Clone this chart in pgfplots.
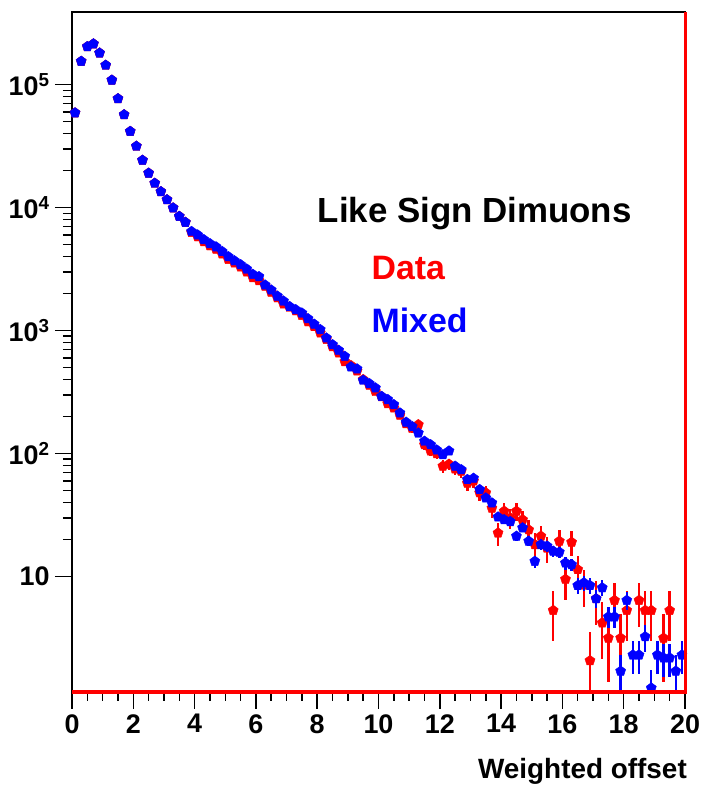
\documentclass[border=0pt]{standalone}
\usepackage{fontspec}
\setmainfont{Liberation Sans}
\usepackage{pgfplots}
\usepackage{pgfplotstable}
\pgfplotsset{compat=1.18}

\pgfplotstableread{
x y e
0.1 59000 243
0.3 155000 394
0.5 204000 452
0.7 215000 464
0.9 181000 425
1.1 144000 379
1.3 109000 330
1.5 77000 277
1.7 57000 239
1.9 41700 204
2.1 31600 178
2.3 24300 156
2.5 19100 138
2.7 15800 126
2.9 13500 116
3.1 11600 108
3.3 9950 100
3.5 8500 92
3.7 7600 87
3.9 6300 79
4.1 5800 76
4.3 5300 73
4.5 4900 70
4.7 4600 68
4.9 4200 65
5.1 3800 62
5.3 3550 60
5.5 3300 57
5.7 3000 55
5.9 2700 52
6.1 2550 50
6.3 2300 48
6.5 2050 45
6.7 1850 43
6.9 1650 41
7.1 1550 39
7.3 1450 38
7.5 1330 36
7.7 1180 34
7.9 1080 33
8.1 960 31
8.3 850 29
8.5 740 27
8.7 660 26
8.9 560 24
9.1 520 23
9.3 470 22
9.5 400 20
9.7 360 19
9.9 320 18
10.1 290 17
10.3 255 16
10.5 235 15.3
10.7 205 14.3
10.9 175 13.2
11.1 160 12.6
11.3 172 13.1
11.5 118 10.9
11.7 105 10.2
11.9 100 10
12.1 79 8.9
12.3 82 9.1
12.5 75 8.7
12.7 72 8.5
12.9 57.5 7.6
13.1 60 7.7
13.3 48 6.9
13.5 48 6.9
13.7 36 6
13.9 22.6 4.75
14.1 34 5.8
14.3 30 5.5
14.5 34 5.8
14.7 29 5.4
14.9 24 4.9
15.1 18.2 4.3
15.3 21.3 4.6
15.5 17 4.1
15.7 5.3 2.3
15.9 19.4 4.4
16.1 9.5 3.1
16.3 19 4.4
16.5 11.4 3.4
16.7 8.5 2.9
16.9 2.07 1.44
17.1 6.6 2.6
17.3 4.2 2.05
17.5 3.16 1.78
17.7 6.4 2.5
17.9 3.16 1.78
18.1 5.3 2.3
18.5 6.4 2.5
18.7 5.3 2.3
18.9 5.3 2.3
19.3 3.16 1.78
19.5 5.3 2.3
}\datatab

\pgfplotstableread{
x y e
0.1 59000 102
0.3 155000 165
0.5 204000 190
0.7 215000 195
0.9 181000 179
1.1 144000 159
1.3 109000 139
1.5 77000 117
1.7 57000 100
1.9 41700 86
2.1 31600 75
2.3 24300 65
2.5 19100 58
2.7 15800 53
2.9 13500 49
3.1 11600 45
3.3 9950 42
3.5 8500 39
3.7 7600 37
3.9 6400 34
4.1 6000 33
4.3 5500 31
4.5 5100 30
4.7 4800 29
4.9 4400 28
5.1 4000 27
5.3 3700 26
5.5 3440 25
5.7 3170 24
5.9 2870 22
6.1 2750 22
6.3 2350 20
6.5 2140 19
6.7 1910 18
6.9 1740 18
7.1 1570 17
7.3 1480 16
7.5 1390 16
7.7 1250 15
7.9 1130 14
8.1 1020 13
8.3 871 12
8.5 769 12
8.7 692 11
8.9 618 10
9.1 507 9.5
9.3 488 9.3
9.5 395 8.3
9.7 371 8.1
9.9 342 7.8
10.1 292 7.2
10.3 275 7
10.5 250 6.6
10.7 214 6.1
10.9 180 5.6
11.1 166 5.4
11.3 147 5.1
11.5 126 4.7
11.7 118 4.6
11.9 107 4.3
12.1 98 4.2
12.3 105 4.3
12.5 79 3.7
12.7 74 3.6
12.9 61.5 3.3
13.1 63 3.3
13.3 51 3.0
13.5 43.6 2.8
13.7 39.7 2.6
13.9 30.5 2.3
14.1 29 2.3
14.3 28 2.2
14.5 21.3 1.9
14.7 24.9 2.1
14.9 19.4 1.85
15.1 13.3 1.5
15.3 18.2 1.8
15.5 17.7 1.8
15.7 16.1 1.7
15.9 15.8 1.7
16.1 12.9 1.5
16.3 12.5 1.5
16.5 8.45 1.2
16.7 8.9 1.25
16.9 8.45 1.2
17.1 6.6 1.1
17.3 8.1 1.2
17.5 4.7 0.9
17.7 4.7 0.9
17.9 1.7 0.6
18.1 6.4 1.05
18.3 2.3 0.7
18.5 2.3 0.7
18.7 3.24 0.8
18.9 1.24 0.5
19.1 2.3 0.7
19.3 2.18 0.65
19.5 2.18 0.65
19.7 1.7 0.6
19.9 2.3 0.7
}\mixtab

\begin{document}
\begin{tikzpicture}
\begin{axis}[
  at={(0,0)}, anchor=south west,
  scale only axis,
  width=613bp, height=680bp,
  xmin=0, xmax=20,
  ymode=log,
  ymin=1.15, ymax=3.9e5,
  tick pos=left,
  tick align=outside,
  xtick={0,2,...,20},
  xticklabels={0,2,4,6,8,10,12,14,16,18,20},
  minor x tick num=3,
  ytick={10,100,1000,10000,100000},
  yticklabels={10,10\textsuperscript{2},10\textsuperscript{3},10\textsuperscript{4},10\textsuperscript{5}},
  major tick length=17bp,
  minor tick length=9bp,
  tick style={black, line width=1.5bp},
  axis line style={line width=2bp},
  ticklabel style={font=\fontsize{27}{27}\selectfont\bfseries},
  xticklabel style={yshift=-2bp},
  yticklabel style={xshift=-2bp},
  clip mode=individual,
]
\addplot+[only marks, red, mark=pentagon*, mark size=5.3bp,
  mark options={red, fill=red, draw=red},
  error bars/.cd, y dir=both, y explicit, x dir=both, x fixed=0.1,
  error bar style={red, line width=2.4bp}, error mark=none]
  table[x=x, y=y, y error=e] {\datatab};
\addplot+[only marks, blue, mark=pentagon*, mark size=5.3bp,
  mark options={blue, fill=blue, draw=blue},
  error bars/.cd, y dir=both, y explicit, x dir=both, x fixed=0.1,
  error bar style={blue, line width=2.4bp}, error mark=none]
  table[x=x, y=y, y error=e] {\mixtab};
\node[anchor=center, font=\fontsize{35}{35}\selectfont\bfseries] at (rel axis cs:0.657,0.703) {Like Sign Dimuons};
\node[anchor=west, red, font=\fontsize{34}{34}\selectfont\bfseries] at (rel axis cs:0.483,0.624) {Data};
\node[anchor=west, blue, font=\fontsize{34}{34}\selectfont\bfseries] at (rel axis cs:0.483,0.547) {Mixed};
\end{axis}
\draw[red, line width=3bp] (0,0) -- (613bp,0) -- (613bp,680bp);
\node[anchor=north east, font=\fontsize{28}{28}\selectfont\bfseries, inner sep=0pt] at (615bp,-66bp) {Weighted offset};
\pgfresetboundingbox
\path[use as bounding box] (-72bp,-93bp) rectangle (630bp,692bp);
\end{tikzpicture}
\end{document}
